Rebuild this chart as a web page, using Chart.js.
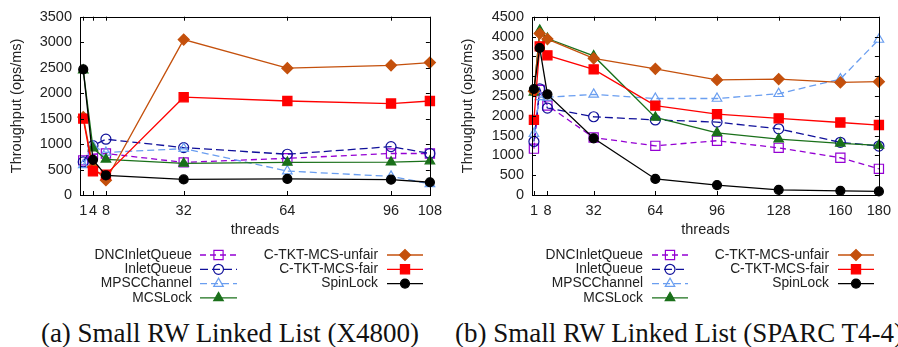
<!DOCTYPE html>
<html>
<head>
<meta charset="utf-8">
<script src="https://cdn.jsdelivr.net/npm/chart.js@4.4.0/dist/chart.umd.min.js"></script>
<style>
    body { margin: 0; background: #fff; width: 898px; height: 347px; overflow: hidden; position: relative; }
    canvas { position: absolute; top: 0; }
    #grafico_a { left: 0; }
    #grafico_b { left: 449px; }
    .legenda { position: absolute; top: 318px; font-family: 'Liberation Serif', 'DejaVu Serif', serif; font-size: 27px; line-height: 30px; white-space: nowrap; color: #111; }
    #legenda_a { left: 0; width: 460px; text-align: center; }
    #legenda_b { left: 455px; }
</style>
</head>
<body>
<canvas id="grafico_a" width="449" height="310"></canvas>
<canvas id="grafico_b" width="449" height="310"></canvas>
<div class="legenda" id="legenda_a">(a) Small RW Linked List (X4800)</div>
<div class="legenda" id="legenda_b">(b) Small RW Linked List (SPARC T4-4)</div>
<script>
// --- Dados: (a) X4800 ---
const threadsA = [1, 4, 8, 32, 64, 96, 108];
const dncA    = [680, 800, 815, 640, 720, 815, 815];
const inletA  = [650, 970, 1095, 930, 800, 950, 815];
const mpscA   = [590, 960, 835, 910, 470, 365, 220];
const mcsA    = [2450, 920, 700, 620, 640, 645, 665];
const unfairA = [1530, 550, 290, 3050, 2490, 2545, 2600];
const fairA   = [1500, 465, 400, 1920, 1845, 1795, 1845];
const spinA   = [2465, 690, 385, 305, 315, 300, 250];
const ticksA  = [1, 4, 8, 32, 64, 96, 108];

// --- Dados: (b) SPARC T4-4 ---
const threadsB = [1, 4, 8, 32, 64, 96, 128, 160, 180];
const dncB    = [1170, 2650, 2260, 1450, 1240, 1370, 1190, 940, 660];
const inletB  = [1350, 2680, 2195, 1975, 1895, 1840, 1670, 1330, 1235];
const mpscB   = [1550, 2475, 2465, 2540, 2435, 2435, 2555, 2925, 3925];
const mcsB    = [2590, 4155, 3950, 3510, 1960, 1570, 1410, 1305, 1250];
const unfairB = [2620, 4075, 3935, 3450, 3185, 2905, 2925, 2840, 2860];
const fairB   = [1895, 3750, 3525, 3170, 2255, 2040, 1935, 1830, 1765];
const spinB   = [2675, 3710, 2540, 1430, 405, 250, 130, 105, 90];
const ticksB  = [1, 8, 32, 64, 96, 128, 160, 180];

const nomesSeries = ['DNCInletQueue', 'InletQueue', 'MPSCChannel', 'MCSLock',
                     'C-TKT-MCS-unfair', 'C-TKT-MCS-fair', 'SpinLock'];

// --- Estilos das séries ---
const estilos = [
    { cor: '#9400d3', dash: [6, 4], ponto: 'rect',     raio: 6.5, cheio: false },
    { cor: '#10109a', dash: [8, 4], ponto: 'circle',   raio: 5,   cheio: false },
    { cor: '#6a9ef0', dash: [7, 4], ponto: 'triangle', raio: 5.5, cheio: false },
    { cor: '#1a701a', dash: [],     ponto: 'triangle', raio: 5.5, cheio: true },
    { cor: '#c4500c', dash: [],     ponto: 'rectRot',  raio: 5.5, cheio: true },
    { cor: '#ff0000', dash: [],     ponto: 'rect',     raio: 6.5, cheio: true },
    { cor: '#000000', dash: [],     ponto: 'circle',   raio: 4.5, cheio: true }
];

const fonte = "'Liberation Sans', Arial, sans-serif";
const tamFonte = 14.5;

function montarDatasets(threads, valores) {
    return valores.map((serie, i) => {
        const e = estilos[i];
        return {
            label: nomesSeries[i],
            data: threads.map((t, j) => ({ x: t, y: serie[j] })),
            borderColor: e.cor,
            backgroundColor: e.cheio ? e.cor : 'rgba(0,0,0,0)',
            borderWidth: 1.3,
            borderDash: e.dash,
            pointStyle: e.ponto,
            pointRadius: e.raio,
            pointBorderWidth: 1.2,
            pointBorderColor: e.cor,
            pointBackgroundColor: e.cheio ? e.cor : 'rgba(0,0,0,0)',
            fill: false,
            tension: 0,
            clip: false,
            order: valores.length - i
        };
    });
}

// --- Plugin: moldura, marcas internas, título "threads" e legenda ---
const pluginMoldura = {
    id: 'moldura',
    afterDraw(chart, args, opts) {
        const ctx = chart.ctx;
        const a = chart.chartArea;
        const sx = chart.scales.x, sy = chart.scales.y;
        ctx.save();
        ctx.strokeStyle = '#000';
        ctx.lineWidth = 1;
        ctx.setLineDash([]);
        ctx.strokeRect(Math.round(a.left) + 0.5, Math.round(a.top) + 0.5,
                       Math.round(a.right - a.left), Math.round(a.bottom - a.top));
        ctx.beginPath();
        sx.ticks.forEach(t => {
            const px = Math.round(sx.getPixelForValue(t.value)) + 0.5;
            ctx.moveTo(px, a.bottom); ctx.lineTo(px, a.bottom - 4);
            ctx.moveTo(px, a.top); ctx.lineTo(px, a.top + 4);
        });
        sy.ticks.forEach(t => {
            const py = Math.round(sy.getPixelForValue(t.value)) + 0.5;
            ctx.moveTo(a.left, py); ctx.lineTo(a.left + 4, py);
            ctx.moveTo(a.right, py); ctx.lineTo(a.right - 4, py);
        });
        ctx.stroke();

        ctx.fillStyle = '#222';
        ctx.font = tamFonte + 'px ' + fonte;
        ctx.textAlign = 'center';
        ctx.textBaseline = 'middle';
        ctx.fillText('threads', (a.left + a.right) / 2, opts.tituloY);

        ctx.font = '13.8px ' + fonte;
        chart.data.datasets.forEach((ds, i) => {
            const col = i < 4 ? opts.colunas[0] : opts.colunas[1];
            const linha = i < 4 ? i : i - 4;
            const yy = opts.legendaY + linha * opts.passo;
            ctx.fillStyle = '#222';
            ctx.textAlign = 'right';
            ctx.fillText(ds.label, col.texto, yy);

            ctx.beginPath();
            ctx.setLineDash(ds.borderDash);
            ctx.strokeStyle = ds.borderColor;
            ctx.lineWidth = ds.borderWidth;
            ctx.moveTo(col.ini, yy);
            ctx.lineTo(col.fim, yy);
            ctx.stroke();
            ctx.setLineDash([]);

            ctx.fillStyle = ds.pointBackgroundColor;
            ctx.strokeStyle = ds.pointBorderColor;
            ctx.lineWidth = ds.pointBorderWidth;
            Chart.helpers.drawPoint(ctx, {
                pointStyle: ds.pointStyle,
                radius: ds.pointRadius,
                borderWidth: ds.pointBorderWidth,
                rotation: 0
            }, (col.ini + col.fim) / 2, yy);
        });
        ctx.restore();
    }
};

function criarGrafico(id, threads, valores, ticksX, xMax, yMax, cfg) {
    const ctx = document.getElementById(id);
    return new Chart(ctx, {
        type: 'line',
        data: { datasets: montarDatasets(threads, valores) },
        plugins: [pluginMoldura],
        options: {
            responsive: false,
            animation: false,
            devicePixelRatio: 1,
            layout: { padding: { top: 9, right: cfg.direita, bottom: 0, left: 0 } },
            scales: {
                x: {
                    type: 'linear',
                    min: 0,
                    max: xMax,
                    grid: { display: false, drawTicks: false },
                    border: { display: false },
                    afterBuildTicks: (escala) => { escala.ticks = ticksX.map(v => ({ value: v })); },
                    afterFit: (escala) => { escala.height = 115; },
                    ticks: {
                        autoSkip: false,
                        maxRotation: 0,
                        padding: 7,
                        color: '#222',
                        font: { family: fonte, size: tamFonte },
                        callback: (v) => String(v)
                    }
                },
                y: {
                    min: 0,
                    max: yMax,
                    grid: { display: false, drawTicks: false },
                    border: { display: false },
                    afterFit: (escala) => { escala.width = cfg.esquerda; },
                    ticks: {
                        stepSize: 500,
                        autoSkip: false,
                        padding: 8,
                        color: '#222',
                        font: { family: fonte, size: tamFonte },
                        callback: (v) => String(v)
                    },
                    title: {
                        display: true,
                        text: 'Throughput (ops/ms)',
                        color: '#222',
                        font: { family: fonte, size: tamFonte },
                        padding: { top: cfg.padTitulo, bottom: 0 }
                    }
                }
            },
            plugins: {
                legend: { display: false },
                tooltip: { enabled: false },
                moldura: {
                    tituloY: 230,
                    legendaY: 255,
                    passo: 14.3,
                    colunas: cfg.colunas
                }
            }
        }
    });
}

// --- Início ---
const graficoA = criarGrafico('grafico_a', threadsA,
    [dncA, inletA, mpscA, mcsA, unfairA, fairA, spinA], ticksA, 108, 3500, {
        esquerda: 80, direita: 18, padTitulo: 8,
        colunas: [{ texto: 192, ini: 200, fim: 237 }, { texto: 378, ini: 387, fim: 423 }]
    });

const graficoB = criarGrafico('grafico_b', threadsB,
    [dncB, inletB, mpscB, mcsB, unfairB, fairB, spinB], ticksB, 180, 4500, {
        esquerda: 83, direita: 15, padTitulo: 10,
        colunas: [{ texto: 194, ini: 203, fim: 239 }, { texto: 380, ini: 389, fim: 425 }]
    });
</script>
</body>
</html>
